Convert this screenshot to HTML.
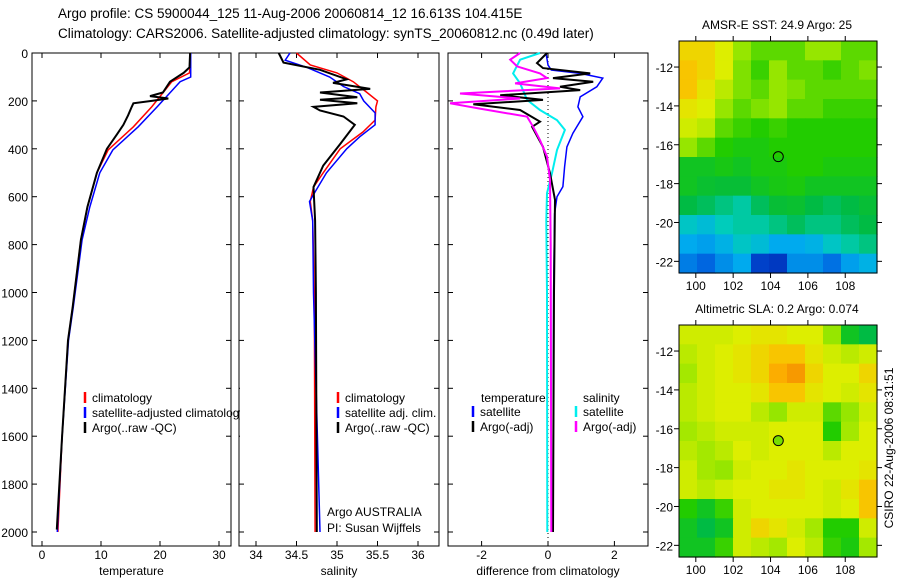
<!DOCTYPE html>
<html><head><meta charset="utf-8">
<style>
body{margin:0;background:#fff;}
svg{display:block;font-family:"Liberation Sans",sans-serif;}
</style></head>
<body>
<svg id="fig" width="900" height="580" viewBox="0 0 900 580">
<text x="58" y="18" font-size="13.5">Argo profile: CS 5900044_125 11-Aug-2006 20060814_12 16.613S 104.415E</text>
<text x="58" y="38" font-size="13.5">Climatology: CARS2006. Satellite-adjusted climatology: synTS_20060812.nc (0.49d later)</text>
</svg>
<script>
// ---------- data ----------
const depthTicks=[0,200,400,600,800,1000,1200,1400,1600,1800,2000];
const tempTicks=[0,10,20,30];
const salTicks=[34,34.5,35,35.5,36];
const salTickLabels=["34","34.5","35","35.5","36"];
const diffTicks=[-2,0,2];
// temperature profiles
const tClimDepth=[0,50,83,120,225,308,405,500,643,780,1060,1200,1600,2000];
const tClimVal=[25.1,25.1,25.0,22.0,18.6,15.5,11.2,9.3,7.7,6.6,5.2,4.4,3.4,2.7];
const tSatDepth=[0,100,120,225,308,405,500,643,780,1060,1200,1600,2000];
const tSatVal=[25.2,25.2,23.4,19.5,16.3,12.0,9.8,8.1,6.8,5.3,4.5,3.4,2.6];
const tArgoDepth=[0,60,83,120,165,180,190,200,210,225,260,300,340,400,500,643,780,1060,1200,1600,1990];
const tArgoVal=[25.1,25.0,24.0,21.7,20.5,18.3,21.4,18.6,15.5,15.2,14.6,13.8,12.7,11.0,9.3,7.7,6.6,5.2,4.4,3.4,2.5];
// salinity profiles
const sClimDepth=[0,50,83,120,165,200,225,280,330,400,500,560,620,700,1000,2000];
const sClimVal=[34.5,34.67,35.0,35.2,35.37,35.5,35.48,35.47,35.32,35.04,34.83,34.71,34.67,34.7,34.72,34.73];
const sSatDepth=[0,30,60,100,140,170,200,250,300,350,400,500,580,620,700,1000,2000];
const sSatVal=[34.42,34.36,34.63,34.91,35.08,35.28,35.33,35.47,35.47,35.28,35.12,34.87,34.73,34.66,34.7,34.71,34.79];
const sArgoDepth=[0,40,70,110,125,150,165,185,195,210,225,240,265,300,380,470,560,700,1000,2000];
const sArgoVal=[34.28,34.34,34.79,35.12,34.95,35.41,34.79,35.25,34.79,35.25,34.71,34.79,35.08,35.22,35.04,34.83,34.71,34.73,34.74,34.75];
// differences
const dTSatDepth=[0,50,71,85,105,141,183,225,266,335,392,475,558,600,670,1000,2000];
const dTSatVal=[-0.06,0,0.1,0.97,1.65,1.47,0.97,0.9,1.05,0.75,0.57,0.5,0.45,0.27,0.2,0.17,0.15];
const dSSatDepth=[0,28,85,127,196,238,280,321,405,502,586,700,1000,2000];
const dSSatVal=[-0.24,-0.84,-1.05,-0.84,-0.63,-0.24,0.27,0.51,0.27,0.12,-0.03,-0.05,-0.03,-0.02];
const dSArgoDepth=[0,28,56,85,105,127,148,169,190,210,232,266,308,364,433,530,800,2000];
const dSArgoVal=[-0.84,-1.14,-0.93,-0.24,-0.03,-0.99,0.36,-2.65,-0.84,-2.95,-2.05,-0.63,-0.45,-0.24,-0.03,0.06,0.08,0.1];
const dTArgoDepth=[0,42,63,85,105,120,141,155,176,196,214,238,287,308,392,502,613,1000,2000];
const dTArgoVal=[-0.03,-0.33,-0.15,1.27,0.15,1.36,0.36,0.97,-1.44,-0.15,-2.25,-0.84,-0.24,-0.48,-0.15,0.06,0.21,0.18,0.15];
// maps
const lonTicks=[100,102,104,106,108];
const latTicks=[-12,-14,-16,-18,-20,-22];
const sstGrid=[
[0.85,0.85,0.8,0.7,0.65,0.65,0.65,0.7,0.7,0.65,0.65],
[0.88,0.85,0.8,0.68,0.62,0.7,0.65,0.65,0.62,0.65,0.68],
[0.88,0.82,0.75,0.68,0.65,0.7,0.68,0.65,0.65,0.65,0.65],
[0.82,0.8,0.7,0.65,0.68,0.7,0.65,0.65,0.62,0.62,0.62],
[0.78,0.75,0.65,0.62,0.6,0.62,0.6,0.6,0.6,0.6,0.6],
[0.7,0.65,0.6,0.58,0.58,0.6,0.6,0.6,0.6,0.6,0.6],
[0.55,0.55,0.57,0.55,0.58,0.58,0.6,0.6,0.58,0.58,0.58],
[0.55,0.53,0.52,0.52,0.55,0.57,0.58,0.55,0.55,0.55,0.55],
[0.5,0.48,0.45,0.42,0.48,0.52,0.53,0.5,0.48,0.5,0.52],
[0.38,0.35,0.4,0.42,0.42,0.45,0.48,0.45,0.45,0.48,0.5],
[0.3,0.28,0.32,0.38,0.35,0.3,0.3,0.32,0.38,0.42,0.45],
[0.22,0.18,0.25,0.3,0.1,0.08,0.25,0.25,0.2,0.28,0.32]];
const slaGrid=[
[0.78,0.78,0.78,0.8,0.82,0.82,0.8,0.8,0.7,0.55,0.5],
[0.75,0.78,0.8,0.82,0.85,0.88,0.88,0.82,0.78,0.75,0.78],
[0.72,0.78,0.8,0.82,0.85,0.92,0.95,0.85,0.8,0.8,0.85],
[0.75,0.78,0.8,0.8,0.82,0.88,0.88,0.82,0.8,0.78,0.82],
[0.75,0.78,0.8,0.8,0.75,0.7,0.78,0.78,0.65,0.7,0.78],
[0.72,0.75,0.78,0.78,0.78,0.8,0.8,0.8,0.6,0.72,0.8],
[0.75,0.72,0.75,0.8,0.78,0.8,0.8,0.8,0.75,0.8,0.8],
[0.78,0.72,0.7,0.78,0.8,0.8,0.82,0.8,0.8,0.8,0.82],
[0.78,0.75,0.78,0.8,0.8,0.82,0.82,0.8,0.78,0.82,0.88],
[0.6,0.55,0.62,0.78,0.8,0.8,0.8,0.8,0.78,0.8,0.88],
[0.55,0.5,0.55,0.78,0.85,0.82,0.78,0.72,0.6,0.6,0.78],
[0.55,0.55,0.62,0.78,0.75,0.72,0.8,0.75,0.62,0.58,0.72]];
const argoLon=104.415, argoLat=-16.613;

// ---------- drawing ----------
const NS="http://www.w3.org/2000/svg";
const svg=document.getElementById('fig');
function mk(tag,attrs,parent){const e=document.createElementNS(NS,tag);for(const k in attrs)e.setAttribute(k,attrs[k]);(parent||svg).appendChild(e);return e;}
const Y0=53, DY=0.2395, YB=546;
const yD=d=>Y0+d*DY;
const panels=[
 {x0:32,x1:231,sx:v=>42+v*5.9,ticks:tempTicks,labels:tempTicks.map(String),title:"temperature",name:"temperature-panel"},
 {x0:239,x1:439,sx:v=>256+(v-34)*81,ticks:salTicks,labels:salTickLabels,title:"salinity",name:"salinity-panel"},
 {x0:448,x1:648,sx:v=>548+v*33.2,ticks:diffTicks,labels:diffTicks.map(String),title:"difference from climatology",name:"difference-panel"}];
panels.forEach((p,i)=>{
 const g=mk('g',{});
 
 
 mk('rect',{x:p.x0,y:Y0,width:p.x1-p.x0,height:YB-Y0,fill:'#fff',stroke:'#000','stroke-width':1},g);
 depthTicks.forEach(d=>{const y=yD(d);
  mk('line',{x1:p.x0,x2:p.x0+5,y1:y,y2:y,stroke:'#000'},g);
  mk('line',{x1:p.x1-5,x2:p.x1,y1:y,y2:y,stroke:'#000'},g);
  if(i===0){const t=mk('text',{x:28,y:y+5,'font-size':12,'text-anchor':'end'},g);t.textContent=d;}
 });
 p.ticks.forEach((v,k)=>{const x=p.sx(v);
  mk('line',{x1:x,x2:x,y1:Y0,y2:Y0+5,stroke:'#000'},g);
  mk('line',{x1:x,x2:x,y1:YB-5,y2:YB,stroke:'#000'},g);
  const t=mk('text',{x:x,y:559,'font-size':12,'text-anchor':'middle'},g);t.textContent=p.labels[k];
  
  
 });
 const t=mk('text',{x:(p.x0+p.x1)/2,y:575,'font-size':12,'text-anchor':'middle'},g);t.textContent=p.title;
 
 
});
function line(depths,vals,sx,color,w,name){
 const pts=depths.map((d,k)=>sx(vals[k]).toFixed(1)+','+yD(d).toFixed(1)).join(' ');
 const e=mk('polyline',{points:pts,fill:'none',stroke:color,'stroke-width':w,'stroke-linejoin':'miter'});
 
 
}
const P=panels;
line(tClimDepth,tClimVal,P[0].sx,'#f00',1.5,'temp-climatology-line');
line(tSatDepth,tSatVal,P[0].sx,'#00f',1.5,'temp-satellite-line');
line(tArgoDepth,tArgoVal,P[0].sx,'#000',2,'temp-argo-line');
line(sClimDepth,sClimVal,P[1].sx,'#f00',1.5,'sal-climatology-line');
line(sSatDepth,sSatVal,P[1].sx,'#00f',1.5,'sal-satellite-line');
line(sArgoDepth,sArgoVal,P[1].sx,'#000',2,'sal-argo-line');
{const e=mk('line',{x1:P[2].sx(0),x2:P[2].sx(0),y1:Y0,y2:YB,stroke:'#000','stroke-dasharray':'1,3'});

}
line(dTSatDepth,dTSatVal,P[2].sx,'#00f',1.5,'diff-temp-satellite-line');
line(dSSatDepth,dSSatVal,P[2].sx,'#0ee',2,'diff-sal-satellite-line');
line(dTArgoDepth,dTArgoVal,P[2].sx,'#000',2,'diff-temp-argo-line');
line(dSArgoDepth,dSArgoVal,P[2].sx,'#f0f',2,'diff-sal-argo-line');
function leg(x,y,color,text){
 const g=mk('g',{});
 
 
 if(color)mk('line',{x1:x,x2:x,y1:y-10,y2:y+1,stroke:color,'stroke-width':2.5},g);
 const t=mk('text',{x:color?x+7:x,y:y,'font-size':12},g);t.textContent=text;
}
leg(85,402,'#f00','climatology');leg(85,417,'#00f','satellite-adjusted climatology');leg(85,432,'#000','Argo(..raw -QC)');
mk('rect',{x:240,y:380,width:20,height:60,fill:'#fff'});
leg(338,402,'#f00','climatology');leg(338,417,'#00f','satellite adj. clim.');leg(338,432,'#000','Argo(..raw -QC)');
leg(481,402,null,'temperature');leg(473,416,'#00f','satellite');leg(473,431,'#000','Argo(-adj)');
leg(583,402,null,'salinity');leg(576,416,'#0ee','satellite');leg(576,431,'#f0f','Argo(-adj)');
{const t=mk('text',{x:327,y:516,'font-size':12});t.textContent='Argo AUSTRALIA';
const t2=mk('text',{x:327,y:532,'font-size':12});t2.textContent='PI: Susan Wijffels';}

const stops=[[0,[0,26,160]],[0.15,[0,85,221]],[0.3,[0,170,238]],[0.4,[0,204,187]],[0.5,[0,187,68]],[0.6,[34,204,0]],[0.7,[150,230,0]],[0.8,[221,238,0]],[0.9,[255,187,0]],[1,[238,119,0]]];
function cmap(v){for(let k=1;k<stops.length;k++){if(v<=stops[k][0]){const a=stops[k-1],b=stops[k],f=(v-a[0])/(b[0]-a[0]);return 'rgb('+a[1].map((c,j)=>Math.round(c+(b[1][j]-c)*f)).join(',')+')';}}return 'rgb(238,119,0)';}
function drawMap(top,grid,title,name,dotFill){
 const X0=679,X1=877,Y1=top+232,lon0=99.1,lon1=109.7,lat0=-10.66,lat1=-22.6;
 const sx=l=>X0+(l-lon0)/(lon1-lon0)*(X1-X0), sy=l=>top+(l-lat0)/(lat1-lat0)*(Y1-top);
 const g=mk('g',{});
 
 
 const nr=grid.length,nc=grid[0].length,cw=(X1-X0)/nc,ch=(Y1-top)/nr;
 grid.forEach((row,r)=>row.forEach((v,c)=>{
  const e=mk('rect',{x:(X0+c*cw).toFixed(2),y:(top+r*ch).toFixed(2),width:(cw+0.6).toFixed(2),height:(ch+0.6).toFixed(2),fill:cmap(v)},g);
  
  
 }));
 mk('rect',{x:X0,y:top,width:X1-X0,height:Y1-top,fill:'none',stroke:'#000'},g);
 lonTicks.forEach(l=>{const x=sx(l);mk('line',{x1:x,x2:x,y1:top-5,y2:top,stroke:'#000'},g);mk('line',{x1:x,x2:x,y1:Y1,y2:Y1+5,stroke:'#000'},g);
  const t=mk('text',{x:x,y:Y1+17,'font-size':12,'text-anchor':'middle'},g);t.textContent=l;});
 latTicks.forEach(l=>{const y=sy(l);mk('line',{x1:X0-5,x2:X0,y1:y,y2:y,stroke:'#000'},g);mk('line',{x1:X1,x2:X1+5,y1:y,y2:y,stroke:'#000'},g);
  const t=mk('text',{x:673,y:y+5,'font-size':12,'text-anchor':'end'},g);t.textContent=l;});
 const c=mk('circle',{cx:sx(argoLon),cy:sy(argoLat),r:5,fill:dotFill,stroke:'#000'},g);
 
 
 const t=mk('text',{x:777,y:top-12,'font-size':12,'text-anchor':'middle'},g);t.textContent=title;
 
 
}
drawMap(41,sstGrid,'AMSR-E SST: 24.9 Argo: 25','sst-map','none');
drawMap(325,slaGrid,'Altimetric SLA: 0.2 Argo: 0.074','sla-map','#77dd00');
{const t=mk('text',{x:0,y:0,'font-size':12,'text-anchor':'middle',transform:'translate(893,448) rotate(-90)'});t.textContent='CSIRO 22-Aug-2006 08:31:51';

}
</script>
</body></html>
